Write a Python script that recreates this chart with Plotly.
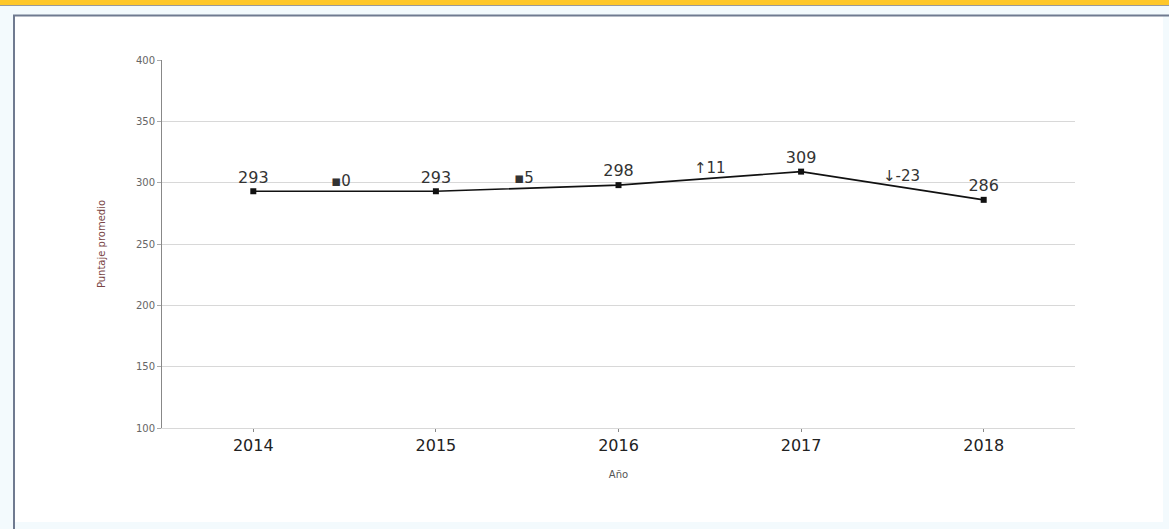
import plotly.graph_objects as go

years = ["2014", "2015", "2016", "2017", "2018"]
scores = [293, 293, 298, 309, 286]
change_labels = ["▪0", "▪5", "↑11", "↓-23"]
change_pos = [0.48, 1.48, 2.5, 3.55]
change_y = [293, 295.5, 303.5, 297.5]
y_ticks = [100, 150, 200, 250, 300, 350, 400]

W, H = 1169, 529
L, R, T, B = 162, 1075, 60, 428
FONT = "DejaVu Sans, Liberation Sans, Arial"

def px_x(p):
    return (p - L) / (R - L)

def px_y(p):
    return (B - p) / (B - T)

fig = go.Figure()
fig.add_trace(go.Scatter(
    x=years, y=scores, mode="lines+markers+text",
    line=dict(color="#111111", width=1.6),
    marker=dict(symbol="square", size=6, color="#111111"),
    text=[str(v) for v in scores], textposition="top center",
    textfont=dict(family=FONT, size=16, color="#333333"),
    hoverinfo="skip", showlegend=False, cliponaxis=False,
))

for lab, xp, yv in zip(change_labels, change_pos, change_y):
    fig.add_annotation(x=xp, y=yv, text=lab, showarrow=False, yshift=10,
                       font=dict(family=FONT, size=15, color="#333333"))

shapes = [
    dict(type="rect", xref="paper", yref="paper", x0=px_x(0), x1=px_x(W), y0=px_y(H), y1=px_y(0),
         fillcolor="#f3fafd", line=dict(width=0), layer="below"),
    dict(type="rect", xref="paper", yref="paper", x0=px_x(15), x1=px_x(W - 6), y0=px_y(522), y1=px_y(16),
         fillcolor="#ffffff", line=dict(width=0), layer="below"),
    dict(type="rect", xref="paper", yref="paper", x0=px_x(0), x1=px_x(W), y0=px_y(5), y1=px_y(0),
         fillcolor="#ffc82a", line=dict(width=0)),
    dict(type="line", xref="paper", yref="paper", x0=px_x(0), x1=px_x(W), y0=px_y(5.5), y1=px_y(5.5),
         line=dict(color="#9a9a9a", width=1)),
    dict(type="line", xref="paper", yref="paper", x0=px_x(13), x1=px_x(W), y0=px_y(15.5), y1=px_y(15.5),
         line=dict(color="#6f7a90", width=2)),
    dict(type="line", xref="paper", yref="paper", x0=px_x(14), x1=px_x(14), y0=px_y(H), y1=px_y(15),
         line=dict(color="#6f7a90", width=2)),
]
fig.update_layout(shapes=shapes)

fig.update_layout(
    width=W, height=H,
    margin=dict(l=L, r=W - R, t=T, b=H - B, pad=0),
    paper_bgcolor="#ffffff", plot_bgcolor="#ffffff",
    font=dict(family=FONT, color="#333333"),
    xaxis=dict(
        type="category", range=[-0.5, 4.5],
        showgrid=False, showline=True, linecolor="#d8d8d8", linewidth=1, zeroline=False,
        ticks="outside", ticklen=3, tickcolor="#888888",
        tickfont=dict(size=16, color="#222222"),
        title=dict(text="Año", font=dict(size=10, color="#555555"), standoff=16),
    ),
    yaxis=dict(
        range=[100, 400], tickvals=y_ticks,
        showgrid=True, gridcolor="#d8d8d8", gridwidth=1,
        showline=True, linecolor="#888888", linewidth=1,
        zeroline=False,
        ticks="outside", ticklen=4, tickcolor="#aaaaaa",
        tickfont=dict(size=10, color="#666666"),
        title=dict(text="Puntaje promedio", font=dict(size=10, color="#7a4545"), standoff=28),
    ),
)

fig.write_html("out.html", config={"displayModeBar": False},
               post_script="document.body.style.margin='0';document.body.style.overflow='hidden';")
